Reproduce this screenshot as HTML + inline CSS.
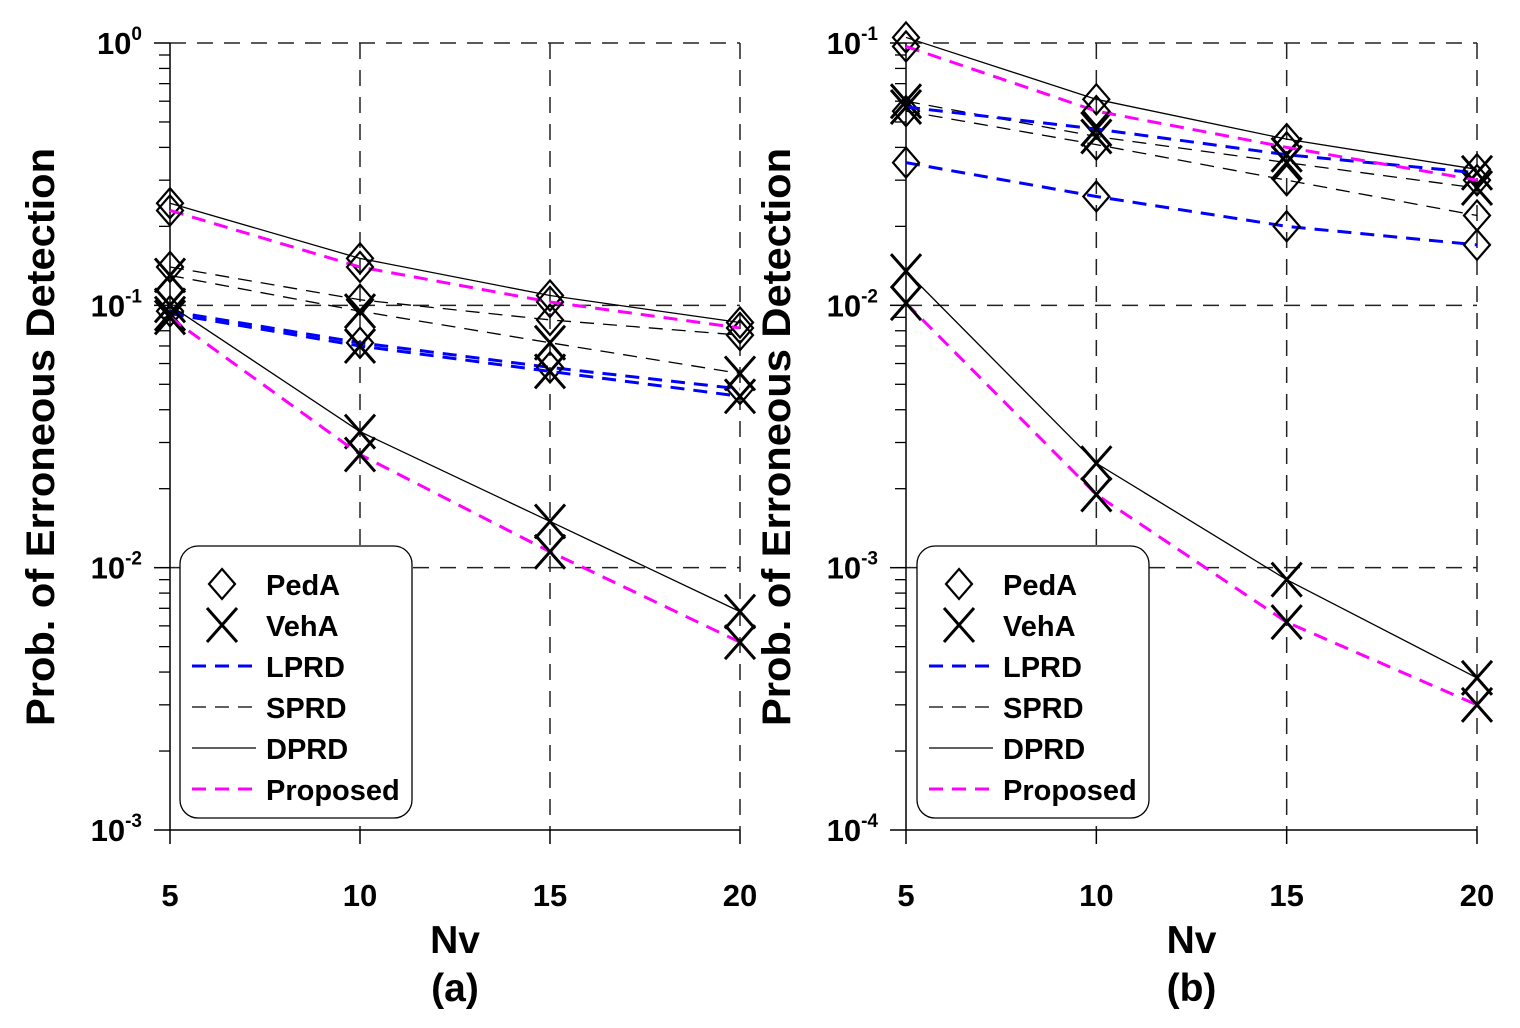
<!DOCTYPE html>
<html><head><meta charset="utf-8"><style>
html,body{margin:0;padding:0;background:#fff;}
svg{display:block;font-family:"Liberation Sans",Arial,sans-serif;font-weight:bold;}
</style></head><body>
<svg id="chart" width="1520" height="1028" viewBox="0 0 1520 1028"></svg>
<script>
const categories = [5, 10, 15, 20];
// Panel (a)
const aDprdPed = [0.245, 0.151, 0.109, 0.086];
const aPropPed = [0.23, 0.14, 0.103, 0.082];
const aSprdPed = [0.14, 0.105, 0.088, 0.077];
const aSprdVeh = [0.13, 0.095, 0.072, 0.055];
const aLprdPed = [0.095, 0.072, 0.058, 0.048];
const aLprdVeh = [0.093, 0.07, 0.056, 0.045];
const aDprdVeh = [0.1, 0.033, 0.015, 0.0068];
const aPropVeh = [0.09, 0.027, 0.0115, 0.0052];
// Panel (b)
const bDprdPed = [0.105, 0.061, 0.043, 0.033];
const bPropPed = [0.097, 0.055, 0.04, 0.03];
const bLprdVeh = [0.057, 0.047, 0.0375, 0.032];
const bLprdPed = [0.035, 0.026, 0.02, 0.017];
const bSprdVeh = [0.06, 0.044, 0.035, 0.028];
const bSprdPed = [0.055, 0.041, 0.03, 0.022];
const bDprdVeh = [0.0135, 0.0025, 0.0009, 0.00038];
const bPropVeh = [0.0102, 0.0019, 0.00062, 0.0003];
const aDecades = [0, -1, -2, -3];
const bDecades = [-1, -2, -3, -4];
const legendLabels = ["PedA", "VehA", "LPRD", "SPRD", "DPRD", "Proposed"];

const NS = "http://www.w3.org/2000/svg";
const svg = document.getElementById("chart");
function mk(tag, attrs, parent) {
  const e = document.createElementNS(NS, tag);
  for (const k in attrs) e.setAttribute(k, attrs[k]);
  (parent || svg).appendChild(e);
  return e;
}
const styles = {
  LPRD: {stroke: "#0000ff", "stroke-width": 3, "stroke-dasharray": "14 9"},
  SPRD: {stroke: "#000", "stroke-width": 1.3, "stroke-dasharray": "14 9"},
  DPRD: {stroke: "#000", "stroke-width": 1.3},
  Proposed: {stroke: "#ff00ff", "stroke-width": 3, "stroke-dasharray": "14 9"}
};
function marker(g, type, x, y) {
  if (type === "d") {
    const m = mk("path", {d: `M${x},${y-15}L${x+13},${y}L${x},${y+15}L${x-13},${y}Z`, fill: "none", stroke: "#000", "stroke-width": 2.2}, g);
    
    
  } else {
    const m = mk("path", {d: `M${x-15},${y-17}L${x+15},${y+17}M${x-15},${y+17}L${x+15},${y-17}`, fill: "none", stroke: "#000", "stroke-width": 3}, g);
    
    
  }
}
function panel(p) {
  const g = mk("g", {});
  
  
  const top = 43, bottom = 830;
  const topDec = p.decades[0], nDec = p.decades.length - 1;
  const xs = v => p.x0 + (v - categories[0]) / (categories[categories.length-1] - categories[0]) * (p.x1 - p.x0);
  const ys = v => top + (topDec - Math.log10(v)) / nDec * (bottom - top);
  p.decades.forEach((d, i) => {
    const y = ys(Math.pow(10, d));
    if (i < nDec) {
      const l = mk("line", {x1: p.x0, x2: p.x1, y1: y, y2: y, stroke: "#222", "stroke-width": 1.5, "stroke-dasharray": "16 11"}, g);
      
      
    }
    const t = mk("text", {x: p.x0 - 28, y: y + 11, "text-anchor": "end", "font-size": 31}, g);
    
    
    t.innerHTML = `10<tspan dy="-14" font-size="19">${d}</tspan>`;
    mk("line", {x1: p.x0 - 16, x2: p.x0, y1: y, y2: y, stroke: "#000", "stroke-width": 1.5}, g);
    if (i < nDec) for (let k = 2; k <= 9; k++) {
      const yy = ys(k * Math.pow(10, d - 1));
      mk("line", {x1: p.x0 - 11, x2: p.x0, y1: yy, y2: yy, stroke: "#000", "stroke-width": 1.3}, g);
    }
  });
  categories.forEach((c, i) => {
    const x = xs(c);
    if (i > 0) {
      const l = mk("line", {x1: x, x2: x, y1: top, y2: bottom, stroke: "#222", "stroke-width": 1.5, "stroke-dasharray": "16 11"}, g);
      
      
    }
    mk("line", {x1: x, x2: x, y1: bottom, y2: bottom + 14, stroke: "#000", "stroke-width": 1.5}, g);
    const t = mk("text", {x: x, y: 906, "text-anchor": "middle", "font-size": 31}, g);
    
    
    t.textContent = c;
  });
  const ax = mk("line", {x1: p.x0, x2: p.x0, y1: top, y2: bottom, stroke: "#000", "stroke-width": 1.5}, g);
  
  
  const bx = mk("line", {x1: p.x0, x2: p.x1, y1: bottom, y2: bottom, stroke: "#000", "stroke-width": 1.5}, g);
  
  
  p.series.forEach(s => {
    const pts = s.vals.map((v, i) => xs(categories[i]) + "," + ys(v)).join(" ");
    const pl = mk("polyline", Object.assign({points: pts, fill: "none"}, styles[s.style]), g);
    
    
    s.vals.forEach((v, i) => marker(g, s.m, xs(categories[i]), ys(v)));
  });
  const yt = mk("text", {x: 0, y: 0, "text-anchor": "middle", "font-size": 40, textLength: 578, lengthAdjust: "spacingAndGlyphs", transform: `translate(${p.x0 - 116},437) rotate(-90)`}, g);
  
  
  yt.textContent = "Prob. of Erroneous Detection";
  const cx = (p.x0 + p.x1) / 2;
  const xt = mk("text", {x: cx, y: 953, "text-anchor": "middle", "font-size": 39}, g);
  
  
  xt.textContent = "Nv";
  const pt = mk("text", {x: cx, y: 1001, "text-anchor": "middle", "font-size": 39}, g);
  
  
  pt.textContent = "(" + p.tag + ")";
  const lg = mk("g", {}, g);
  
  
  mk("rect", {x: p.lx, y: 546, width: 232, height: 272, rx: 18, fill: "#fff", stroke: "#000", "stroke-width": 1.3}, lg);
  legendLabels.forEach((lab, i) => {
    const y = 584 + i * 41;
    const mx = p.lx + 42;
    if (i === 0) marker(lg, "d", mx, y);
    else if (i === 1) marker(lg, "x", mx, y);
    else mk("line", Object.assign({x1: mx - 30, x2: mx + 34, y1: y, y2: y}, styles[lab]), lg);
    const t = mk("text", {x: p.lx + 86, y: y + 11, "font-size": 29}, lg);
    
    
    t.textContent = lab;
  });
}
panel({tag: "a", x0: 170, x1: 740, lx: 180, decades: aDecades, series: [
  {vals: aSprdPed, style: "SPRD", m: "d"}, {vals: aSprdVeh, style: "SPRD", m: "x"},
  {vals: aLprdPed, style: "LPRD", m: "d"}, {vals: aLprdVeh, style: "LPRD", m: "x"},
  {vals: aDprdPed, style: "DPRD", m: "d"}, {vals: aDprdVeh, style: "DPRD", m: "x"},
  {vals: aPropPed, style: "Proposed", m: "d"}, {vals: aPropVeh, style: "Proposed", m: "x"}]});
panel({tag: "b", x0: 906, x1: 1477, lx: 917, decades: bDecades, series: [
  {vals: bSprdPed, style: "SPRD", m: "d"}, {vals: bSprdVeh, style: "SPRD", m: "x"},
  {vals: bLprdPed, style: "LPRD", m: "d"}, {vals: bLprdVeh, style: "LPRD", m: "x"},
  {vals: bDprdPed, style: "DPRD", m: "d"}, {vals: bDprdVeh, style: "DPRD", m: "x"},
  {vals: bPropPed, style: "Proposed", m: "d"}, {vals: bPropVeh, style: "Proposed", m: "x"}]});
</script>
</body></html>
